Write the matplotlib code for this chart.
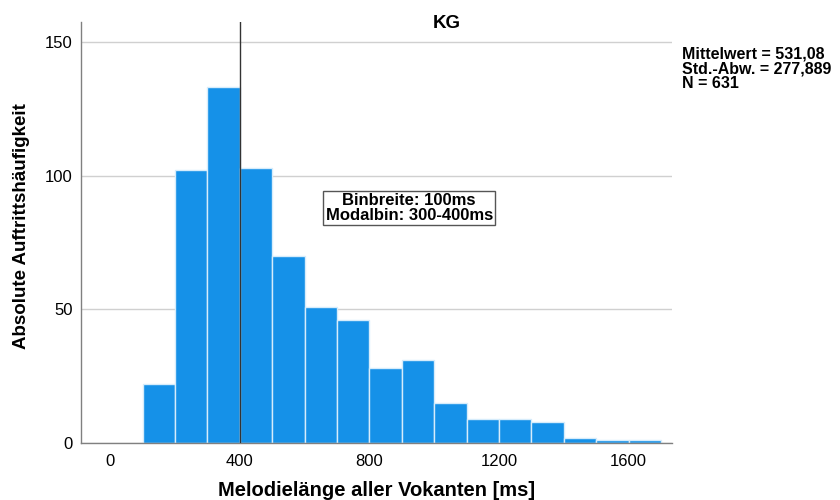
import matplotlib.pyplot as plt
import numpy as np

plt.rcParams['font.family'] = ['Liberation Sans', 'DejaVu Sans']

# histogram data (bin lower edges in ms, counts)
bin_starts = [100, 200, 300, 400, 500, 600, 700, 800, 900, 1000,
              1100, 1200, 1300, 1400, 1500, 1600]
counts = [22, 102, 133, 103, 70, 51, 46, 28, 31, 15, 9, 9, 8, 2, 1, 1]
bin_width = 100
x_ticks = [0, 400, 800, 1200, 1600]
y_ticks = [0, 50, 100, 150]
ref_line = 400

stats_lines = ['Mittelwert = 531,08', 'Std.-Abw. = 277,889', 'N = 631']
box_text = 'Binbreite: 100ms\nModalbin: 300-400ms'

fig = plt.figure(figsize=(8.4, 5), dpi=100)
ax = fig.add_axes([0.0964, 0.114, 0.704, 0.842])

ax.bar(bin_starts, counts, width=bin_width, align='edge',
       color='#1591e8', edgecolor='#d6ecfb', linewidth=1.0, zorder=2)
ax.axvline(ref_line, color='#333333', linewidth=1.0, zorder=3)

ax.set_xlim(-90, 1735)
ax.set_ylim(0, 157.5)
ax.set_xticks(x_ticks)
ax.set_yticks(y_ticks)
ax.tick_params(length=0, labelsize=12)
ax.tick_params(axis='x', pad=8)
ax.tick_params(axis='y', pad=6)
ax.yaxis.grid(True, color='#d0d0d0', linewidth=1.0, zorder=0)
ax.set_axisbelow(True)

for s in ['top', 'right']:
    ax.spines[s].set_visible(False)
for s in ['left', 'bottom']:
    ax.spines[s].set_color('#808080')
    ax.spines[s].set_linewidth(1.0)

# axis labels placed in figure coords
fig.text(0.448, 0.02, 'Melodielänge aller Vokanten [ms]', ha='center',
         va='center', fontsize=14.5, fontweight='bold')
fig.text(0.026, 0.548, 'Absolute Auftrittshäufigkeit', ha='center',
         va='center', rotation=90, fontsize=13.5, fontweight='bold')
fig.text(0.532, 0.954, 'KG', ha='center', va='center', fontsize=13.5,
         fontweight='bold')

ax.text(0.555, 0.558, box_text, transform=ax.transAxes, ha='center',
        va='center', fontsize=12, fontweight='bold', linespacing=0.95,
        bbox=dict(boxstyle='square,pad=0.15', facecolor='white',
                  edgecolor='#555555', linewidth=1.0))

# stats block, one line each, ~14.5 px apart
for i, line in enumerate(stats_lines):
    fig.text(0.812, 0.892 - i * 0.029, line, ha='left', va='center',
             fontsize=11.5, fontweight='bold')

fig.savefig('out.png', dpi=100)
